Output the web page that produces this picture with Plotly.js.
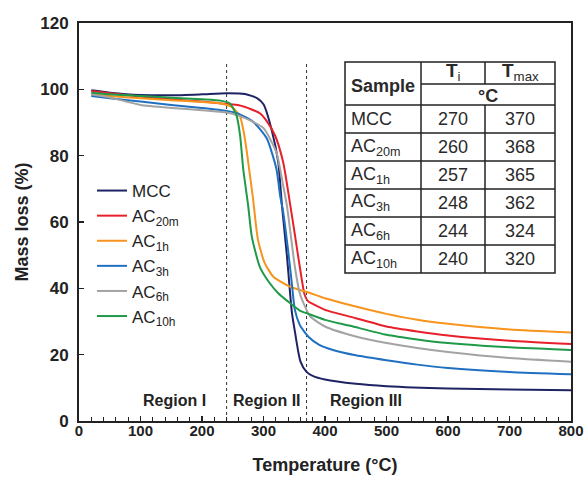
<!DOCTYPE html>
<html>
<head>
<meta charset="utf-8">
<script src="https://cdn.plot.ly/plotly-3.0.1.min.js"></script>
<style>html,body{margin:0;padding:0;background:#fff;}#chart{width:587px;height:480px;}</style>
</head>
<body>
<div id="chart"></div>
<script>
// ---- data ----
const seriesNames = ["MCC", "AC<sub>20m</sub>", "AC<sub>1h</sub>", "AC<sub>3h</sub>", "AC<sub>6h</sub>", "AC<sub>10h</sub>"];
const seriesColors = ["#1e2364", "#e8202a", "#f7941d", "#1f70c1", "#a3a3a3", "#1f9a48"];

const tMCC = [20,50,100,150,200,240,270,290,300,313,324,330,338,346,351,360,370,380,400,450,500,600,700,800];
const vMCC = [99.7,99,98.3,98.2,98.5,98.8,98.6,97.3,95.5,88,78,65,50,33,27,18,14.8,13.6,12.5,11.2,10.5,9.8,9.5,9.3];

const tAC20m = [20,50,100,150,200,240,260,280,294,305,319,332,343,352,359,367,373,380,400,450,500,550,600,700,800];
const vAC20m = [99.5,98.8,97.8,97,96.3,95.6,95.2,94,92.8,90.5,86,78,65.7,55,46.5,38,36,35.3,33.5,31,28.5,27,25.8,24.2,23.2];

const tAC1h = [20,50,100,150,200,229,250,262,268,273,278,283,291,302,316,330,343,359,372,400,450,500,550,600,700,800];
const vAC1h = [98.5,98,97.3,96.7,96.2,95.8,94.5,91.7,87,81,74,67,54.6,47.6,43.5,41.8,40.5,39.5,38.8,37,34.5,32.3,30.5,29.3,27.6,26.7];

const tAC3h = [20,50,100,150,200,240,260,283,305,321,327,332,340,346,351,359,366,373,390,413,450,500,550,600,700,800];
const vAC3h = [98,97.3,96.3,95.3,94.4,93.5,92.6,90.2,85.3,76,68,63,51.5,41.6,33.5,29,27,25.4,23,21.4,19.8,18.3,17,16,14.8,14.1];

const tAC6h = [20,50,80,100,150,200,240,260,280,300,321,332,338,345,351,359,370,376,400,450,500,550,600,700,800];
const vAC6h = [98.5,97.5,96.2,95.3,94.4,93.7,93,92,90.5,88.3,81,71,65,55,46.5,38.5,33.5,31.5,28.5,25.5,23.5,22,20.8,19,17.9];

const tAC10h = [20,50,100,150,200,230,245,256,262,267,275,281,294,310,324,338,359,373,400,441,500,550,600,700,800];
const vAC10h = [99,98.5,98,97.5,97,96.6,95.8,92.2,86,76,65,55.6,46.5,41.6,38.5,36.3,33.3,32.3,30.5,28.7,26,24.6,23.5,22.2,21.4];

const seriesT = [tMCC, tAC20m, tAC1h, tAC3h, tAC6h, tAC10h];
const seriesV = [vMCC, vAC20m, vAC1h, vAC3h, vAC6h, vAC10h];

const regionBounds = [240, 370];
const regionLabels = ["Region I", "Region II", "Region III"];
const regionLabelX = [155, 305, 466];
const regionLabelY = 6.3;

const tableSamples = ["MCC", "AC<sub>20m</sub>", "AC<sub>1h</sub>", "AC<sub>3h</sub>", "AC<sub>6h</sub>", "AC<sub>10h</sub>"];
const tableTi = [270, 260, 257, 248, 244, 240];
const tableTmax = [370, 368, 365, 362, 324, 320];

(function () {
  const FF = "Arial, Liberation Sans, sans-serif";
  const traces = seriesNames.map((n, i) => ({
    x: seriesT[i], y: seriesV[i], name: n, type: "scatter", mode: "lines",
    line: {color: seriesColors[i], width: 2, shape: "spline", smoothing: 0.6},
    legendgroup: "g" + i
  }));

  const W = 587, H = 480, mL = 79, mR = 16, mT = 23, mB = 59;
  const pw = W - mL - mR, ph = H - mT - mB;
  const px = x => (x - mL) / pw;
  const py = y => (H - mB - y) / ph;

  const shapes = [];
  const annotations = [];
  const tc = "#222";
  function hline(x0, x1, y) { shapes.push({type: "line", xref: "paper", yref: "paper", x0: px(x0), x1: px(x1), y0: py(y), y1: py(y), line: {color: tc, width: 1.5}}); }
  function vline(x, y0, y1) { shapes.push({type: "line", xref: "paper", yref: "paper", x0: px(x), x1: px(x), y0: py(y0), y1: py(y1), line: {color: tc, width: 1.5}}); }

  const cx = [345, 421, 485, 555];
  const yTop = 62, h1 = 84, h2 = 105, yBot = 273;
  const rowH = (yBot - h2) / tableSamples.length;
  shapes.push({type: "rect", xref: "paper", yref: "paper", x0: px(cx[0]), x1: px(cx[3]), y0: py(yBot), y1: py(yTop), line: {color: tc, width: 1.5}, fillcolor: "white", layer: "above"});
  vline(cx[1], yTop, yBot);
  vline(cx[2], yTop, h1);
  vline(cx[2], h2, yBot);
  hline(cx[1], cx[3], h1);
  hline(cx[0], cx[3], h2);
  for (let i = 1; i < tableSamples.length; i++) hline(cx[0], cx[3], h2 + i * rowH);

  const tcol = "#2a2a2a";
  function txt(text, x, y, opts) {
    annotations.push(Object.assign({xref: "paper", yref: "paper", x: px(x), y: py(y), text: text, showarrow: false,
      xanchor: "center", yanchor: "middle", font: {family: FF, size: 18, color: tcol}}, opts || {}));
  }
  txt("<b>Sample</b>", cx[0] + 4, (yTop + h2) / 2 + 2, {xanchor: "left"});
  txt("<b>T</b><sub>i</sub>", (cx[1] + cx[2]) / 2, (yTop + h1) / 2 - 1, {font: {family: FF, size: 19, color: tcol}});
  txt("<b>T</b><sub>max</sub>", (cx[2] + cx[3]) / 2, (yTop + h1) / 2 - 1, {font: {family: FF, size: 19, color: tcol}});
  txt("<b>°C</b>", (cx[1] + cx[3]) / 2, (h1 + h2) / 2 + 1);
  tableSamples.forEach((s, i) => {
    const yc = h2 + (i + 0.5) * rowH;
    txt(s, cx[0] + 4, yc, {xanchor: "left"});
    txt(String(tableTi[i]), (cx[1] + cx[2]) / 2, yc);
    txt(String(tableTmax[i]), (cx[2] + cx[3]) / 2, yc);
  });

  regionBounds.forEach(b => shapes.push({type: "line", xref: "x", yref: "y", x0: b, x1: b, y0: 0, y1: 108, line: {color: "#333", width: 1, dash: "dot"}, layer: "below"}));
  regionLabels.forEach((r, i) => annotations.push({xref: "x", yref: "y", x: regionLabelX[i], y: regionLabelY, text: "<b>" + r + "</b>", showarrow: false,
    font: {family: FF, size: 16, color: "#222"}}));

  const layout = {
    width: W, height: H,
    margin: {l: mL, r: mR, t: mT, b: mB},
    paper_bgcolor: "white", plot_bgcolor: "white",
    font: {family: FF, color: "#222"},
    showlegend: true,
    legend: {x: px(92), y: py(173), xanchor: "left", yanchor: "top", bgcolor: "rgba(0,0,0,0)",
      font: {size: 17, color: "#222"}, tracegroupgap: 0, itemwidth: 30},
    xaxis: {range: [0, 800], dtick: 100, showgrid: false, zeroline: false, showline: true, mirror: true,
      linecolor: "#222", linewidth: 2, ticks: "inside", ticklen: 5, tickwidth: 1.5, tickcolor: "#222",
      minor: {dtick: 20, ticks: "inside", ticklen: 4, tickwidth: 1, tickcolor: "#222"},
      tickfont: {size: 15, color: "#222", weight: "bold"}, ticklabelstandoff: -5,
      title: {text: "<b>Temperature (°C)</b>", font: {size: 18, color: "#222"}, standoff: 20}},
    yaxis: {range: [0, 120], dtick: 20, showgrid: false, zeroline: false, showline: true, mirror: true,
      linecolor: "#222", linewidth: 2, ticks: "inside", ticklen: 5, tickwidth: 1.5, tickcolor: "#222",
      tickfont: {size: 17, color: "#222", weight: "bold"}, ticklabelstandoff: 5,
      title: {text: "<b>Mass loss (%)</b>", font: {size: 18, color: "#222"}, standoff: 7}},
    shapes: shapes, annotations: annotations
  };

  Plotly.newPlot("chart", traces, layout, {displayModeBar: false, staticPlot: true});
})();
</script>
</body>
</html>
